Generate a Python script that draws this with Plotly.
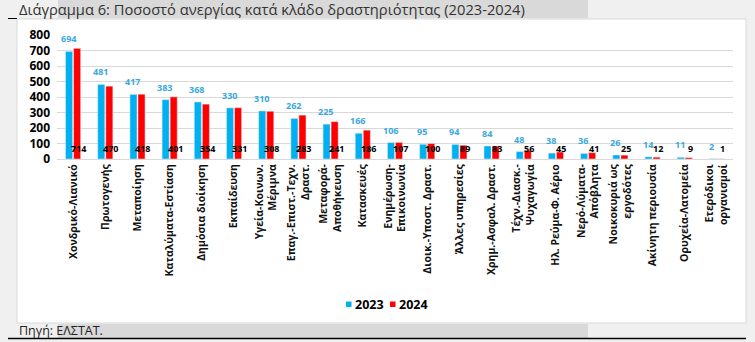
import plotly.graph_objects as go

categories = [
    "Χονδρικό-Λιανικό", "Πρωτογενής", "Μεταποίηση", "Καταλύματα-Εστίαση",
    "Δημόσια διοίκηση", "Εκπαίδευση", "Υγεία-Κοινων.<br>Μέριμνα",
    "Επαγ.-Επιστ.-Τεχν.<br>Δραστ.", "Μεταφορά-<br>Αποθήκευση", "Κατασκευές",
    "Ενημέρωση-<br>Επικοινωνία", "Διοικ.-Υποστ. Δραστ.", "Άλλες υπηρεσίες",
    "Χρημ.-Ασφαλ. Δραστ.", "Τέχν.-Διασκ.-<br>Ψυχαγωγία", "Ηλ. Ρεύμα-Φ. Αέριο",
    "Νερό-Λύματα-<br>Απόβλητα", "Νοικοκυριά ως<br>εργοδότες", "Ακίνητη περιουσία",
    "Ορυχεία-Λατομεία", "Ετερόδικοι<br>οργανισμοί",
]
values_2023 = [694, 481, 417, 383, 368, 330, 310, 262, 225, 166, 106, 95, 94, 84, 48, 38, 36, 26, 14, 11, 2]
values_2024 = [714, 470, 418, 401, 354, 331, 308, 283, 241, 186, 107, 100, 89, 83, 56, 45, 41, 25, 12, 9, 1]
series_names = ["2023", "2024"]
y_ticks = [0, 100, 200, 300, 400, 500, 600, 700, 800]

title_text = "Διάγραμμα 6: Ποσοστό ανεργίας κατά κλάδο δραστηριότητας (2023-2024)"
source_text = "Πηγή: ΕΛΣΤΑΤ."

W, H = 755, 342
BLUE = "#00b0f0"
RED = "#ff0000"
LABEL_BLUE = "#3aa8dc"
FONT = "Open Sans"


def px(x):
    return x / W


def py(y):
    return 1 - y / H


fig = go.Figure()
fig.add_bar(x=categories, y=values_2023, name=series_names[0], marker_color=BLUE)
fig.add_bar(x=categories, y=values_2024, name=series_names[1], marker_color=RED)

annotations = []
for c, v in zip(categories, values_2023):
    annotations.append(dict(x=c, y=v, xref="x", yref="y", text=f"<b>{v}</b>",
                            showarrow=False, yanchor="bottom", xshift=-5, yshift=4,
                            font=dict(family=FONT, size=9, color=LABEL_BLUE)))
for c, v in zip(categories, values_2024):
    annotations.append(dict(x=c, y=70, xref="x", yref="y", text=f"<b>{v}</b>",
                            showarrow=False, yanchor="middle", xshift=5.5,
                            font=dict(family=FONT, size=9, color="#000000")))
annotations.append(dict(x=px(17), y=py(9), xref="paper", yref="paper", text=title_text,
                        showarrow=False, xanchor="left", yanchor="middle",
                        font=dict(family=FONT, size=14.7, color="#333333")))
annotations.append(dict(x=px(17), y=py(330.5), xref="paper", yref="paper", text=source_text,
                        showarrow=False, xanchor="left", yanchor="middle",
                        font=dict(family=FONT, size=12.5, color="#222222")))

# manual legend (squares + text)
legend_items = [(series_names[0], BLUE, 346), (series_names[1], RED, 390)]
shapes = [
    dict(type="rect", xref="paper", yref="paper", x0=px(58), x1=px(588), y0=py(0), y1=py(18),
         fillcolor="#d9d9d9", line_width=0, layer="below"),
    dict(type="rect", xref="paper", yref="paper", x0=px(17), x1=px(746), y0=py(19), y1=py(323),
         fillcolor="#ffffff", line=dict(color="#d9d9d9", width=1), layer="below"),
    dict(type="rect", xref="paper", yref="paper", x0=px(58), x1=px(588), y0=py(324), y1=py(338),
         fillcolor="#d9d9d9", line_width=0, layer="below"),
    dict(type="line", xref="paper", yref="paper", x0=px(8), x1=px(746), y0=py(338.5), y1=py(338.5),
         line=dict(color="#000000", width=1.5)),
    dict(type="line", xref="paper", yref="paper", x0=px(8), x1=px(17), y0=py(18.5), y1=py(18.5),
         line=dict(color="#000000", width=1)),
]
for name, color, x0 in legend_items:
    shapes.append(dict(type="rect", xref="paper", yref="paper", x0=px(x0), x1=px(x0 + 5.5),
                       y0=py(307), y1=py(301.5), fillcolor=color, line_width=0))
    annotations.append(dict(x=px(x0 + 6.5), y=py(304), xref="paper", yref="paper",
                            text=f"<b>{name}</b>", showarrow=False, xanchor="left",
                            yanchor="middle",
                            font=dict(family=FONT, size=12.5, color="#000000")))

fig.update_layout(
    width=W, height=H,
    margin=dict(l=0, r=0, t=0, b=0, pad=0),
    paper_bgcolor="#f0f0f0",
    plot_bgcolor="rgba(0,0,0,0)",
    barmode="group", bargap=0.5, bargroupgap=0.12,
    font=dict(family=FONT, color="#000000"),
    annotations=annotations,
    shapes=shapes,
    showlegend=False,
    xaxis=dict(domain=[px(57), px(733)], tickangle=-90, automargin=False,
               tickfont=dict(family=FONT, size=10.5, color="#111111", weight="bold"),
               showline=True, linecolor="#d9d9d9", linewidth=1, ticks="", showgrid=False),
    yaxis=dict(domain=[py(159), py(35)], range=[0, 800], tickvals=y_ticks, automargin=False,
               tickfont=dict(family=FONT, size=12, color="#000000", weight="bold"),
               showgrid=True, gridcolor="#d9d9d9", gridwidth=1, zeroline=False, ticks="",
               ticklabelstandoff=6),
)

fig.write_html("out.html")
